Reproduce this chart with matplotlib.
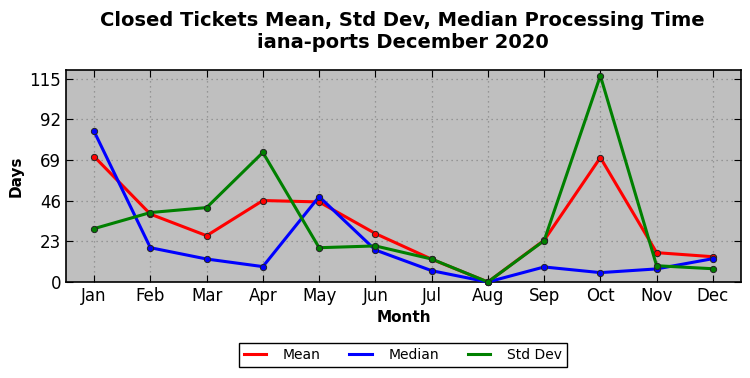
import matplotlib.pyplot as plt

months = ['Jan', 'Feb', 'Mar', 'Apr', 'May', 'Jun', 'Jul', 'Aug', 'Sep', 'Oct', 'Nov', 'Dec']
mean = [71.0, 38.4, 26.2, 46.1, 45.3, 27.4, 12.9, 0, 23.6, 70.4, 16.6, 14.3]
median = [85.2, 19.4, 13.0, 8.7, 48.3, 18.1, 6.4, 0, 8.5, 5.3, 7.4, 13.2]
std_dev = [30.2, 39.3, 42.1, 73.3, 19.4, 20.4, 13.0, 0, 23.4, 116.7, 9.2, 7.5]
yticks = [0, 23, 46, 69, 92, 115]

fig = plt.figure(figsize=(7.5, 3.78), dpi=100)
ax = fig.add_axes([0.088, 0.254, 0.900, 0.561])
ax.set_facecolor('#bfbfbf')

x = range(len(months))
for vals, col, lab in [(mean, 'red', 'Mean'), (median, 'blue', 'Median'), (std_dev, 'green', 'Std Dev')]:
    ax.plot(x, vals, color=col, lw=2.2, marker='o', ms=4.5, mfc=col, mec='#222222', mew=0.7,
            label=lab, clip_on=False, zorder=3)

ax.set_xlim(-0.5, 11.5)
ax.set_ylim(0, 120)
ax.set_xticks(list(x))
ax.set_xticklabels(months, fontsize=12)
ax.set_yticks(yticks)
ax.tick_params(axis='y', labelsize=12)
ax.tick_params(direction='in', length=5, top=True, right=True)
ax.grid(True, color='#888888', linestyle=(0, (1, 3)), linewidth=0.9)
for s in ax.spines.values():
    s.set_linewidth(1.2)

ax.set_xlabel('Month', fontsize=11, fontweight='bold')
ax.set_ylabel('Days', fontsize=11, fontweight='bold')
fig.text(0.537, 0.972, 'Closed Tickets Mean, Std Dev, Median Processing Time\niana-ports December 2020',
         fontsize=14, fontweight='bold', ha='center', va='top', linespacing=1.2)

leg = fig.legend(loc='center', bbox_to_anchor=(0.537, 0.061), ncol=3, fontsize=10,
                 fancybox=False, framealpha=1, edgecolor='black', columnspacing=2.1,
                 handlelength=1.6, handletextpad=1.2, borderpad=0.35)
for h in leg.legend_handles:
    h.set_marker('')
leg.get_frame().set_linewidth(1.0)

fig.savefig('out.png', dpi=100)
